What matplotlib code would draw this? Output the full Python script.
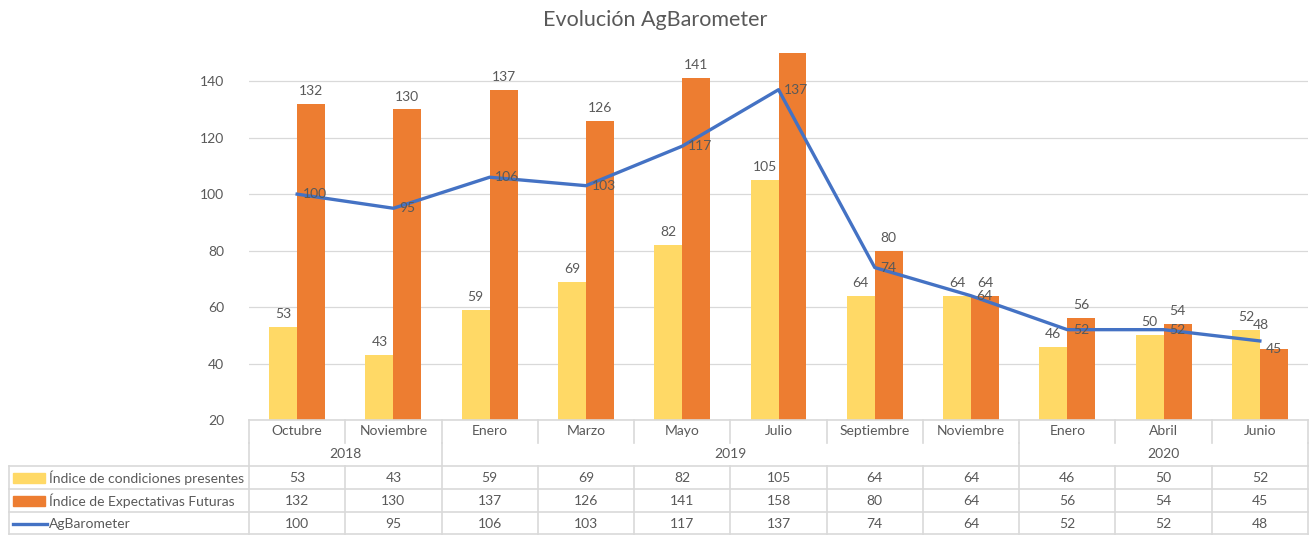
import matplotlib
matplotlib.use('Agg')
import matplotlib.pyplot as plt
from matplotlib.transforms import blended_transform_factory

plt.rcParams['font.family'] = ['Lato', 'DejaVu Sans']

# data
meses = ['Octubre', 'Noviembre', 'Enero', 'Marzo', 'Mayo', 'Julio',
         'Septiembre', 'Noviembre', 'Enero', 'Abril', 'Junio']
anios = ['2018', '2019', '2020']
meses_por_anio = [2, 6, 3]
condiciones = [53, 43, 59, 69, 82, 105, 64, 64, 46, 50, 52]
expectativas = [132, 130, 137, 126, 141, 158, 80, 64, 56, 54, 45]
agbarometer = [100, 95, 106, 103, 117, 137, 74, 64, 52, 52, 48]
series_nombres = ['Índice de condiciones presentes', 'Índice de Expectativas Futuras', 'AgBarometer']

AMARILLO = '#FFD966'
NARANJA = '#ED7D31'
AZUL = '#4472C4'
TEXTO = '#595959'
GRIS = '#D9D9D9'

W, H = 1312, 535
fig = plt.figure(figsize=(W / 100, H / 100), dpi=100)
ax = fig.add_axes([249 / W, 1 - 420 / H, (1308 - 249) / W, (420 - 53) / H])

x = list(range(len(meses)))
bw = 0.29
ymax = 150
bars1 = ax.bar([i - bw / 2 for i in x], condiciones, bw, color=AMARILLO)
bars2 = ax.bar([i + bw / 2 for i in x], expectativas, bw, color=NARANJA)
ax.plot(x, agbarometer, color=AZUL, lw=2.4, zorder=3)

ax.set_xlim(-0.5, len(meses) - 0.5)
ax.set_ylim(20, ymax)
ax.set_yticks(range(20, 141, 20))
ax.yaxis.grid(True, color=GRIS, lw=0.9)
ax.set_axisbelow(True)
for s in ax.spines.values():
    s.set_visible(False)
ax.tick_params(axis='y', length=0, pad=18, labelsize=10, labelcolor=TEXTO)
ax.set_xticks([])

ultimo = len(meses) - 1
# bar labels (Excel pushed the last orange label down onto the bar top)
for serie, (xs, vals) in enumerate(((bars1, condiciones), (bars2, expectativas))):
    for i, (b, v) in enumerate(zip(xs, vals)):
        if v > ymax:
            continue
        dy, va = (5, 'bottom')
        if serie == 1 and i == ultimo:
            dy, va = (0, 'center')
        ax.annotate(str(v), (b.get_x() + b.get_width() / 2, v), xytext=(0, dy),
                    textcoords='offset points', ha='center', va=va,
                    fontsize=10, color=TEXTO, zorder=4)
# line labels, right of the point (the last one above it)
for i, v in enumerate(agbarometer):
    if i == ultimo:
        ax.annotate(str(v), (i, v), xytext=(1, 7), textcoords='offset points',
                    ha='center', va='bottom', fontsize=10, color=TEXTO, zorder=4)
    else:
        ax.annotate(str(v), (i, v), xytext=(4, 0), textcoords='offset points',
                    ha='left', va='center', fontsize=10, color=TEXTO, zorder=4)

fig.text(655 / W, 1 - 20 / H, 'Evolución AgBarometer', ha='center', va='center',
         fontsize=15.5, color=TEXTO)

# data table under the chart
tr = blended_transform_factory(ax.transData, fig.transFigure)


def fy(py):
    return 1 - py / H


def hline(x0, x1, py):
    fig.add_artist(plt.Line2D([x0, x1], [fy(py), fy(py)], transform=tr, color=GRIS, lw=1.2))


def vline(xx, py0, py1):
    fig.add_artist(plt.Line2D([xx, xx], [fy(py0), fy(py1)], transform=tr, color=GRIS, lw=1.2))


n = len(meses)
left_x = -0.5 - (249 - 9) / ((1308 - 249) / n)
row_y = [420, 466, 489, 512, 534]
hline(-0.5, n - 0.5, 420)
for py in row_y[1:]:
    hline(left_x, n - 0.5, py)
# category row verticals
for i in range(n + 1):
    vline(i - 0.5, 420, 443)
# year row verticals
edges = [0]
for k in meses_por_anio:
    edges.append(edges[-1] + k)
for e in edges:
    vline(e - 0.5, 443, 466)
# data rows verticals
vline(left_x, 466, 534)
for i in range(n + 1):
    vline(i - 0.5, 466, 534)

for i, m in enumerate(meses):
    fig.text(i, fy(431), m, transform=tr, ha='center', va='center', fontsize=10, color=TEXTO)
for k, a in enumerate(anios):
    mid = (edges[k] + edges[k + 1] - 1) / 2
    fig.text(mid, fy(454), a, transform=tr, ha='center', va='center', fontsize=10, color=TEXTO)

filas = [condiciones, expectativas, agbarometer]
fila_y = [478, 501, 524]
for fila, py in zip(filas, fila_y):
    for i, v in enumerate(fila):
        fig.text(i, fy(py), str(v), transform=tr, ha='center', va='center', fontsize=10, color=TEXTO)

# legend keys in the table
for nombre, py, col, kind in zip(series_nombres, fila_y, [AMARILLO, NARANJA, AZUL], ['bar', 'bar', 'line']):
    if kind == 'bar':
        fig.add_artist(plt.Rectangle((13 / W, fy(py + 5)), 32 / W, 10 / H,
                                     transform=fig.transFigure, color=col))
    else:
        fig.add_artist(plt.Line2D([13 / W, 47 / W], [fy(py), fy(py)],
                                  transform=fig.transFigure, color=col, lw=2.4))
    fig.text(49 / W, fy(py), nombre, ha='left', va='center', fontsize=10, color=TEXTO)

fig.savefig('out.png', dpi=100)
